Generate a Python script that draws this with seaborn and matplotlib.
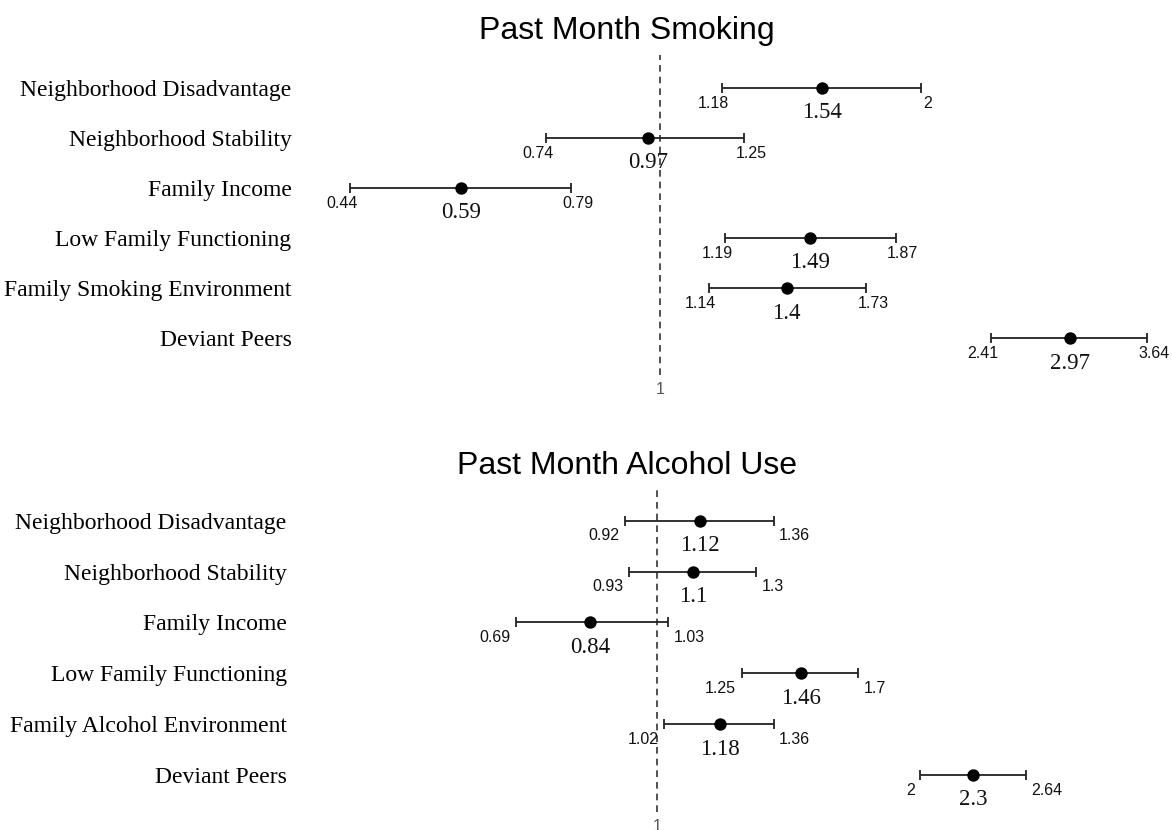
import numpy as np
import pandas as pd
import seaborn as sns
import matplotlib
matplotlib.use("Agg")
import matplotlib.pyplot as plt

smoke_labels = ['Neighborhood Disadvantage', 'Neighborhood Stability', 'Family Income',
                'Low Family Functioning', 'Family Smoking Environment', 'Deviant Peers']
smoke_or = [1.54, 0.97, 0.59, 1.49, 1.4, 2.97]
smoke_lo = [1.18, 0.74, 0.44, 1.19, 1.14, 2.41]
smoke_hi = [2, 1.25, 0.79, 1.87, 1.73, 3.64]

alc_labels = ['Neighborhood Disadvantage', 'Neighborhood Stability', 'Family Income',
              'Low Family Functioning', 'Family Alcohol Environment', 'Deviant Peers']
alc_or = [1.12, 1.1, 0.84, 1.46, 1.18, 2.3]
alc_lo = [0.92, 0.93, 0.69, 1.25, 1.02, 2]
alc_hi = [1.36, 1.3, 1.03, 1.7, 1.36, 2.64]

sns.set_theme(style="white")
plt.rcParams['font.family'] = ['Liberation Sans', 'DejaVu Sans']

fig = plt.figure(figsize=(11.72, 8.30), dpi=100)
ax1 = fig.add_axes([0.260, 0.548, 0.7295, 0.386])
ax2 = fig.add_axes([0.260, 0.0217, 0.7295, 0.3883])


def fmt(v):
    return ('%.2f' % v).rstrip('0').rstrip('.')


def forest(ax, title, labels, est, lo, hi, xlim, ylim, ypad, ci_style, title_y):
    df = pd.DataFrame({'label': labels, 'est': est, 'lo': lo, 'hi': hi,
                       'row': np.arange(len(labels))})
    ax.axvline(1, color='#333333', ls=(0, (4, 3)), lw=1.2, zorder=1)
    ax.errorbar(df['est'], df['row'], xerr=[df['est'] - df['lo'], df['hi'] - df['est']],
                fmt='none', ecolor='#222222', elinewidth=1.3, capsize=3.5, capthick=1.3, zorder=2)
    sns.scatterplot(data=df, x='est', y='row', ax=ax, color='black', s=80,
                    edgecolor='black', linewidth=0, zorder=3, legend=False)
    ax.set_xscale('log')
    ax.set_xlim(*xlim)
    ax.set_ylim(*ylim)
    ax.set_yticks(df['row'])
    ax.set_yticklabels(labels, family=['Liberation Serif', 'DejaVu Serif'], fontsize=17, color='black')
    ax.tick_params(axis='y', length=0, pad=ypad)
    ax.set_xticks([1])
    ax.set_xticklabels(['1'], fontsize=11.5, color='#555555')
    ax.xaxis.set_minor_locator(matplotlib.ticker.NullLocator())
    ax.tick_params(axis='x', length=0, pad=5)
    ax.set_xlabel('')
    ax.set_ylabel('')
    for s in ax.spines.values():
        s.set_visible(False)
    (lha, ldx), (uha, udx) = ci_style
    for r in df.itertuples():
        ax.annotate(fmt(r.lo), (r.lo, r.row), xytext=(ldx, -11), textcoords='offset points',
                    ha=lha, va='center', fontsize=11.5, color='#111111')
        ax.annotate(fmt(r.hi), (r.hi, r.row), xytext=(udx, -11), textcoords='offset points',
                    ha=uha, va='center', fontsize=11.5, color='#111111')
        ax.annotate(fmt(r.est), (r.est, r.row), xytext=(0, -18), textcoords='offset points',
                    ha='center', va='center', fontsize=16.5,
                    family=['Liberation Serif', 'DejaVu Serif'], color='#111111')
    fig.text(0.535, title_y, title, ha='center', va='center', fontsize=23, color='black')


forest(ax1, 'Past Month Smoking', smoke_labels, smoke_or, smoke_lo, smoke_hi,
       (0.390, 3.767), (5.74, -0.66), 9.5, (('center', -6), ('center', 5)), 1 - 31 / 830)
forest(ax2, 'Past Month Alcohol Use', alc_labels, alc_or, alc_lo, alc_hi,
       (0.396, 3.757), (5.73, -0.61), 13, (('right', -4), ('left', 4)), 1 - 466 / 830)

fig.savefig('out.png', dpi=100, facecolor='white')
